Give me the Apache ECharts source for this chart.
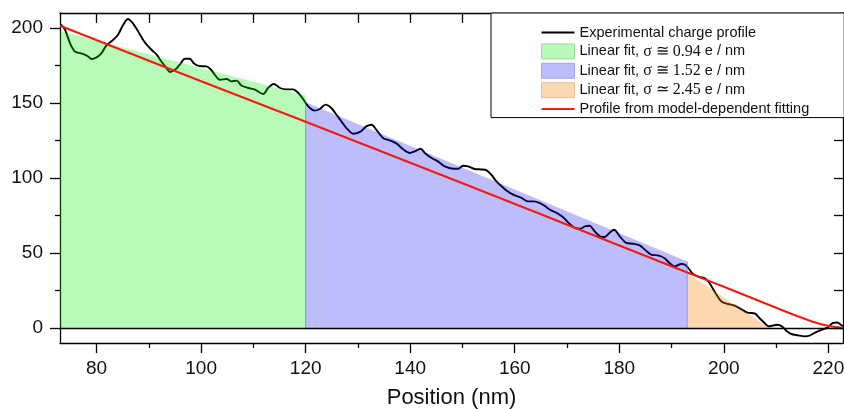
<!DOCTYPE html>
<html><head><meta charset="utf-8">
<script src="https://cdn.jsdelivr.net/npm/echarts@6/dist/echarts.min.js"></script>
<style>html,body{margin:0;padding:0;background:#fff}#c{width:844px;height:409px}</style>
</head><body><div id="c"></div>
<script>
// Experimental charge profile
const profileX = [73.2,73.95,74.9,75.85,77.4,78.4,79.0,80.0,80.96,81.9,83.2,84.1,85.1,86.0,86.8,87.96,89.1,90.5,91.5,92.4,93.4,94.0,95.0,95.9,96.9,97.8,98.7,99.75,101.0,101.9,102.6,103.6,104.9,105.8,106.8,107.7,109.0,110.3,111.9,112.8,113.9,115.1,116.3,117.6,118.6,119.3,120.0,120.8,121.7,122.7,123.8,124.9,125.9,126.85,127.8,129.1,130.4,131.6,132.6,133.5,134.8,136.1,137.4,138.6,139.9,140.9,142.0,142.8,144.1,145.3,146.6,148.2,149.2,150.1,151.1,152.3,153.6,154.6,155.5,156.5,157.5,158.4,159.7,161.3,162.5,163.5,164.45,165.7,166.7,168.0,169.2,170.2,171.5,172.6,173.4,174.3,175.3,176.3,177.2,178.2,179.0,180.1,181.35,182.6,183.9,184.9,186.1,187.4,188.6,189.6,190.6,191.85,192.6,193.2,194.1,195.35,196.3,197.25,198.4,199.6,200.8,202.0,203.2,204.5,205.9,206.8,207.8,208.6,209.4,210.3,211.1,211.95,212.9,214.2,215.45,216.4,217.35,218.3,219.25,219.9,220.8,221.7,222.4,222.8];
const profileY = [202.2,198.9,190,184.4,182.7,181,179.3,180.4,183.3,188.5,192.2,195.5,202.2,206,203.7,197.7,191,185.5,182.2,177.7,173.3,170.7,172.2,175.5,179.5,179.5,176.2,174.6,174.4,172.2,168.9,165.5,166,164.4,164.9,161.7,160,158.9,156,160,162.7,160,159.1,159.1,156.7,153.7,150,146.7,144.9,146,148.9,146.7,142.2,137.7,133.3,129.5,130.7,134.4,135.5,132.2,126.7,125.1,122.9,119.3,116.7,117.8,119.5,116.7,113.3,111.1,107.7,106.2,106.2,108.2,107.7,106.0,105.7,105.1,102.2,97.7,94.4,91.7,88.9,86.7,84.4,84.4,83.7,81.5,78.9,76.7,74,70.4,66.7,66.2,67.7,68.2,64.4,61.1,60.7,63.7,65.5,61.1,56.7,56.2,55.1,52.2,48.9,48.4,46.7,43.3,41.1,42.7,42.2,40,36,34,33.3,30,23.3,17.5,16,15,12.8,10.3,9.7,6.7,3.3,1.1,1.7,2.2,1.1,-1.8,-4,-4.9,-5.6,-5.1,-3.3,-1.8,-0.5,0.4,3.3,3.7,2.2,1.1];
// Profile from model-dependent fitting
const modelX = [73,100,120,150,180,193,200,205,210,214,217,219,221,222.8];
const modelY = [201.5,164.5,137.5,96.5,55,37,27.5,20.5,13.5,8,4.2,2.2,0.8,0.2];
// Linear fits
const fit1X = [73,120], fit1Y = [198,155];
const fit2X = [120,193], fit2Y = [150.5,44.4];
const fit3X = [193,208.8], fit3Y = [36.5,0];
// Ticks
const xMajorTicks = [80,100,120,140,160,180,200,220];
const xMinorTicks = [90,110,130,150,170,190,210];
const xTopTicks = [80,90,100,110,120,130,140,150,160,170,180,190,200,210,220];
const yMajorTicks = [0,50,100,150,200];
const yMinorTicks = [25,75,125,175];
const yRightTicks = [0,25,50,75,100,125,150,175,200];
const names = ['Experimental charge profile','fit1','fit2','fit3','Profile from model-dependent fitting'];
const fitLabels = {fit1:'σ ≅ 0.94', fit2:'σ ≅ 1.52', fit3:'σ ≃ 2.45'};

const zip = (a,b) => a.map((v,i)=>[v,b[i]]);
const X0 = 73, X1 = 222.8, Y0 = -10, Y1 = 210;
const sans = 'Liberation Sans, Arial, sans-serif';
const serif = 'Liberation Serif, Times New Roman, serif';

function xAx(pos, ticks, len, inside, labels, line) {
  return {type:'value', min:X0, max:X1, position:pos, splitLine:{show:false},
    axisLine:{show:line, onZero:false, lineStyle:{color:'#000', width:1.3}},
    axisTick:{show:true, inside:inside, length:len, customValues:ticks, lineStyle:{color:'#000', width:1.3}},
    axisLabel:{show:labels, customValues:ticks, fontFamily:sans, fontSize:19, color:'#111', margin:16}};
}
function yAx(pos, ticks, len, inside, labels, line) {
  return {type:'value', min:Y0, max:Y1, position:pos, splitLine:{show:false},
    axisLine:{show:line, onZero:false, lineStyle:{color:'#000', width:1.3}},
    axisTick:{show:true, inside:inside, length:len, customValues:ticks, lineStyle:{color:'#000', width:1.3}},
    axisLabel:{show:labels, customValues:ticks, fontFamily:sans, fontSize:19, color:'#111', margin:17}};
}
const xAxes = [xAx('bottom', xMajorTicks, 10, false, true, true),
  xAx('bottom', xMinorTicks, 5, false, false, false),
  xAx('top', xTopTicks, 10, true, false, true)];
xAxes[0].name = 'Position (nm)';
xAxes[0].nameLocation = 'middle';
xAxes[0].nameGap = 44;
xAxes[0].nameTextStyle = {fontFamily:sans, fontSize:22, color:'#111'};
const yAxes = [yAx('left', yMajorTicks, 10, false, true, true),
  yAx('left', yMinorTicks, 5, false, false, false),
  yAx('right', yRightTicks, 9, true, false, true)];

function area(name, xs, ys, color) {
  return {name, type:'line', data:zip(xs,ys), symbol:'none', color,
    lineStyle:{width:0}, areaStyle:{color, origin:0, opacity:1}, z:3, silent:true};
}
const option = {
  animation:false,
  grid:{left:60, right:1, top:13, bottom:66, containLabel:false, outerBoundsMode:'none'},
  xAxis: xAxes,
  yAxis: yAxes,
  legend:{
    orient:'vertical', left:491, top:13, itemWidth:33, itemHeight:15, itemGap:3.4,
    padding:[12,35,1,50], borderColor:'#000', borderWidth:1, backgroundColor:'#fff',
    selectedMode:false,
    data:[
      {name:names[0], icon:'path://M0,0 L33,0 L33,2 L0,2 Z', itemStyle:{color:'#000'}},
      {name:names[1], icon:'rect', itemStyle:{color:'#b8f8b8', borderColor:'#a0dca0', borderWidth:1}},
      {name:names[2], icon:'rect', itemStyle:{color:'#bcbcfa', borderColor:'#a8a8e0', borderWidth:1}},
      {name:names[3], icon:'rect', itemStyle:{color:'#fcd8b2', borderColor:'#e0c0a0', borderWidth:1}},
      {name:names[4], icon:'path://M0,0 L33,0 L33,2 L0,2 Z', itemStyle:{color:'#f0201a'}}
    ],
    formatter: n => fitLabels[n] ? '{s|Linear fit, }{g|' + fitLabels[n] + '}{s| e / nm}' : '{s|' + n + '}',
    textStyle:{color:'#111', rich:{
      s:{fontFamily:sans, fontSize:14.5, lineHeight:15, color:'#111'},
      g:{fontFamily:serif, fontSize:16, lineHeight:15, color:'#111'}}}
  },
  series:[
    {name:names[0], type:'line', data:zip(profileX,profileY), symbol:'none', smooth:0.3,
     color:'#000', lineStyle:{color:'#000', width:1.9}, z:2, silent:true,
     markLine:{silent:true, symbol:'none', label:{show:false},
       lineStyle:{color:'#000', width:1.3, type:'solid'}, data:[{yAxis:0}]}},
    area(names[1], fit1X, fit1Y, 'rgba(0,240,0,0.28)'),
    area(names[2], fit2X, fit2Y, 'rgba(10,10,245,0.27)'),
    area(names[3], fit3X, fit3Y, 'rgba(250,130,10,0.32)'),
    {name:'edge1', type:'line', data:[[fit2X[0],0],[fit2X[0],fit2Y[0]]], symbol:'none',
     lineStyle:{color:'rgba(60,120,200,0.6)', width:1}, z:3, silent:true},
    {name:'edge2', type:'line', data:[[fit3X[0],0],[fit3X[0],fit2Y[1]]], symbol:'none',
     lineStyle:{color:'rgba(150,110,200,0.7)', width:1}, z:3, silent:true},
    {name:names[4], type:'line', data:zip(modelX,modelY), symbol:'none', smooth:0.4,
     color:'#f0201a', lineStyle:{color:'#f21a10', width:2.1}, z:4, silent:true}
  ]
};
echarts.init(document.getElementById('c'), null, {renderer:'canvas'}).setOption(option);
</script></body></html>
